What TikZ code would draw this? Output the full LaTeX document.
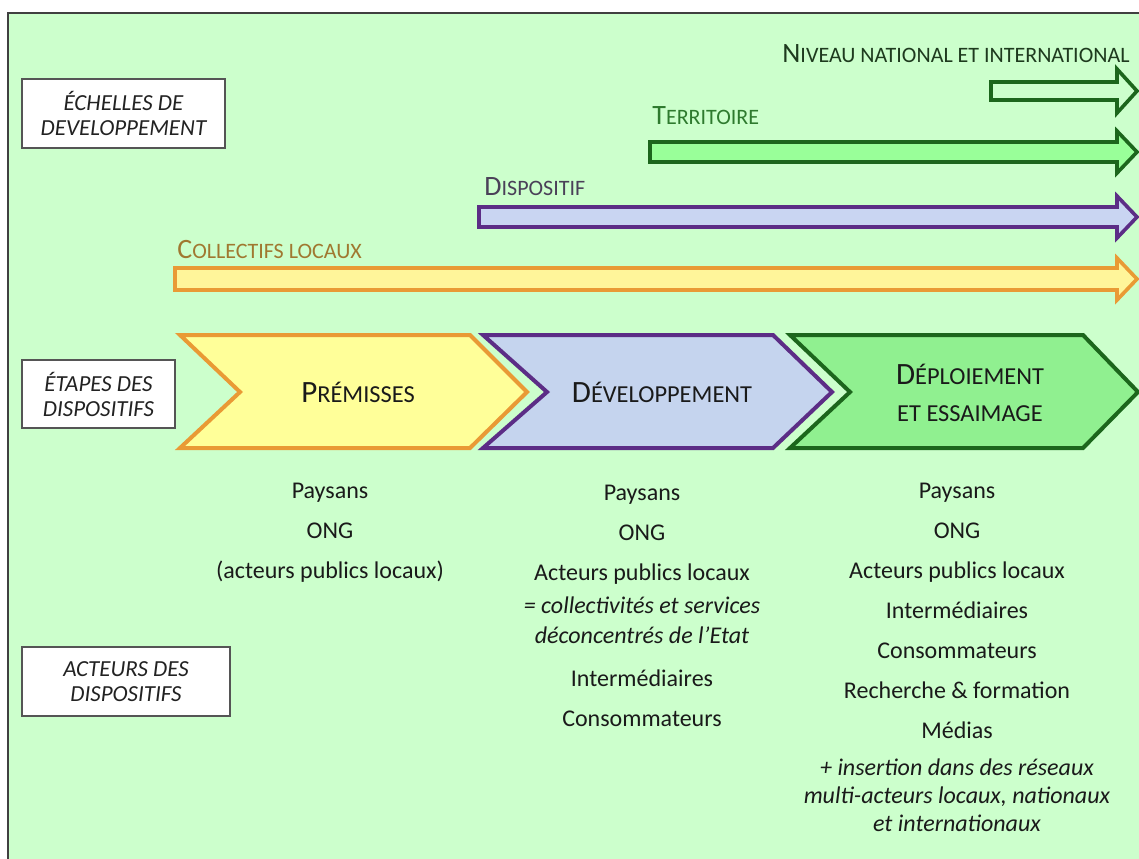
\documentclass[tikz,border=0pt]{standalone}
\usepackage{fontspec}
\setmainfont{Carlito}
\usepackage{xcolor}
\usepackage{tikz}

\definecolor{bgvert}{HTML}{CCFFCC}
\definecolor{cadre}{HTML}{404040}
\definecolor{boxgris}{HTML}{555555}
\definecolor{textgris}{HTML}{222222}
\definecolor{textnoir}{HTML}{1A1A1A}
\definecolor{jaunefond}{HTML}{FFFF99}
\definecolor{collectfond}{HTML}{FFF59A}
\definecolor{orangetrait}{HTML}{E99A35}
\definecolor{bleufond}{HTML}{C5D4EE}
\definecolor{dispfond}{HTML}{C9D5F2}
\definecolor{violettrait}{HTML}{5C2D86}
\definecolor{vertfond}{HTML}{90F090}
\definecolor{territfond}{HTML}{99FF99}
\definecolor{verttrait}{HTML}{1C661C}
\definecolor{collecttxt}{HTML}{A07830}
\definecolor{disptxt}{HTML}{4A4058}
\definecolor{territtxt}{HTML}{2E7A2E}
\definecolor{niveautxt}{HTML}{1E3A1E}

% fake small caps: big first letter, smaller capitals after it
\newcommand\petitcap[2]{{\fontsize{14pt}{16pt}\selectfont #1}{\fontsize{11pt}{13pt}\selectfont #2}}
\newcommand\grandcap[2]{{\fontsize{15.5pt}{18pt}\selectfont #1}{\fontsize{12.2pt}{14pt}\selectfont #2}}

% block arrow of one scale: start x, centre y, shaft half, head half, draw, fill
\newcommand\flecheechelle[6]{%
  \draw[line width=1.8pt, line join=miter, draw=#5, fill=#6]
    (#1,#2-#3) -- (1117,#2-#3) -- (1117,#2-#4) -- (1137,#2)
    -- (1117,#2+#4) -- (1117,#2+#3) -- (#1,#2+#3) -- cycle;}

\begin{document}
\begin{tikzpicture}[
    x=0.5pt, y=-0.5pt,
    labelbox/.style={draw=boxgris, fill=white, line width=0.6pt, inner sep=0pt,
                     font=\fontsize{11.5pt}{12.5pt}\selectfont\itshape,
                     text=textgris, align=center},
    chevron/.style={line width=2pt, line join=miter},
    etape/.style={text=textnoir, align=center, inner sep=0pt},
    colonne/.style={align=center, anchor=north, inner sep=0pt,
                    font=\fontsize{12pt}{20pt}\selectfont, text=textnoir},
    echelle/.style={anchor=base west, inner sep=0pt}
  ]
  \useasboundingbox (0,0) rectangle (1139,858);
  \draw[cadre, line width=1pt, fill=bgvert] (8,13) rectangle (1160,880);

  % scales of development
  \node[labelbox, minimum width=101.5pt, minimum height=34.5pt] (echelles)
    at (123.5,113.5) {ÉCHELLES DE\\DEVELOPPEMENT};

  \flecheechelle{991}{91}{9}{22}{verttrait}{bgvert}
  \flecheechelle{650}{152}{10}{21}{verttrait}{territfond}
  \flecheechelle{479}{217}{10}{21}{violettrait}{dispfond}
  \flecheechelle{175}{279}{11}{21}{orangetrait}{collectfond}

  \node[echelle, text=niveautxt] (niveau) at (782,62)
    {\petitcap{N}{IVEAU NATIONAL ET INTERNATIONAL}};
  \node[echelle, text=territtxt] (territoire) at (652,124)
    {\petitcap{T}{ERRITOIRE}};
  \node[echelle, text=disptxt] (dispositif) at (484,195)
    {\petitcap{D}{ISPOSITIF}};
  \node[echelle, text=collecttxt] (collectifs) at (177,258)
    {\petitcap{C}{OLLECTIFS LOCAUX}};

  % stages
  \node[labelbox, minimum width=76.5pt, minimum height=34pt] (etapes)
    at (98.5,394) {ÉTAPES DES\\DISPOSITIFS};

  \draw[chevron, draw=orangetrait, fill=jaunefond]
    (180,335) -- (470,335) -- (527,392) -- (470,448) -- (180,448) -- (240,392) -- cycle;
  \draw[chevron, draw=violettrait, fill=bleufond]
    (483,335) -- (773,335) -- (832,392) -- (773,448) -- (483,448) -- (547,392) -- cycle;
  \draw[chevron, draw=verttrait, fill=vertfond]
    (790,335) -- (1083,335) -- (1138,392) -- (1083,448) -- (790,448) -- (850,392) -- cycle;

  \node[etape] (premisses) at (358,392) {\grandcap{P}{RÉMISSES}};
  \node[etape] (developpement) at (662,392) {\grandcap{D}{ÉVELOPPEMENT}};
  \node[etape, font=\fontsize{12pt}{18.5pt}\selectfont] (deploiement) at (970,393)
    {\grandcap{D}{ÉPLOIEMENT}\\\grandcap{}{ET ESSAIMAGE}};

  % actors
  \node[labelbox, minimum width=104pt, minimum height=34.5pt] (acteurs)
    at (126,681.5) {ACTEURS DES\\DISPOSITIFS};

  \node[colonne] (col-premisses) at (330,483)
    {Paysans\\ONG\\(acteurs publics locaux)};
  \node[colonne] (col-developpement) at (642,485)
    {Paysans\\ONG\\Acteurs publics locaux\\[-3.5pt]
     \textit{= collectivités et services}\\[-5pt]
     \textit{déconcentrés de l’Etat}\\[1.5pt]
     Intermédiaires\\Consommateurs};
  \node[colonne] (col-deploiement) at (957,483)
    {Paysans\\ONG\\Acteurs publics locaux\\Intermédiaires\\Consommateurs\\
     Recherche \& formation\\Médias\\[-1.5pt]
     \textit{+ insertion dans des réseaux}\\[-6pt]
     \textit{multi-acteurs locaux, nationaux}\\[-6pt]
     \textit{et internationaux}};
\end{tikzpicture}
\end{document}
